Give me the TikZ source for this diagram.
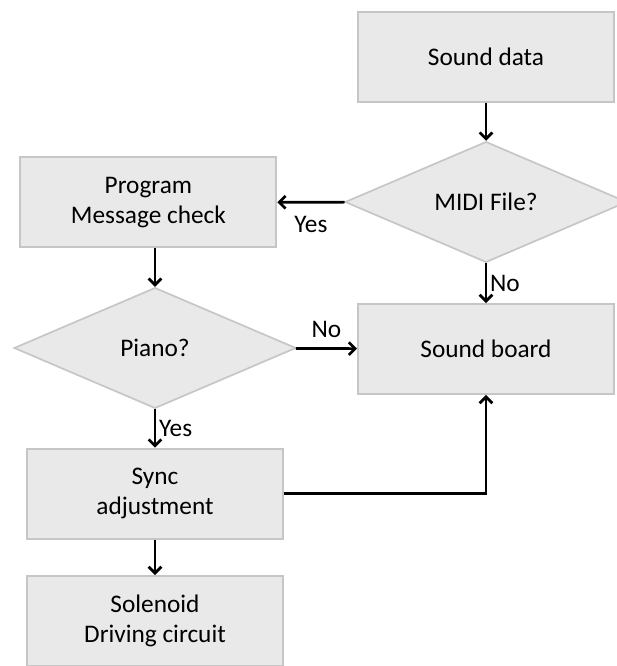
\documentclass[tikz,border=0pt]{standalone}
\usepackage{fontspec}
\setmainfont{Carlito}
\usetikzlibrary{shapes.geometric,arrows.meta}
\definecolor{boxfill}{RGB}{233,233,233}
\definecolor{boxline}{RGB}{198,198,198}
\tikzset{
    block/.style={draw=boxline, line width=1.4pt, fill=boxfill, rectangle,
        minimum width=6.4cm, minimum height=2.25cm, align=center, font=\fontsize{18}{21.5}\selectfont},
    decision/.style={draw=boxline, line width=1.2pt, fill=boxfill, diamond, aspect=2.3,
        minimum width=7.05cm, minimum height=3.02cm, inner sep=0pt, font=\fontsize{18}{21.5}\selectfont},
    flow/.style={-{Straight Barb[length=4.5pt,width=9pt]}, line width=1.9pt},
    lbl/.style={font=\fontsize{18}{21.5}\selectfont, inner sep=3pt}
}

\begin{document}
\begin{tikzpicture}

    \useasboundingbox (0,0) rectangle (15.4,16.65);

    % Right column
    \node[block] at (12.15,15.225) (Sdata) {Sound data};
    \node[decision] at (12.15,11.6) (Midi) {MIDI File?};
    \node[block] at (12.15,7.925) (Sboard) {Sound board};

    % Left column
    \node[block] at (3.71,11.59) (Prog) {Program\\Message check};
    \node[decision] at (3.875,7.95) (Piano) {Piano?};
    \node[block] at (3.875,4.31) (Sync) {Sync\\adjustment};
    \node[block] at (3.875,1.125) (Sol) {Solenoid\\Driving circuit};

    % Arrows
    \draw[flow] (Sdata) -- (Midi);
    \draw[flow] (Midi) -- node[lbl,below=6pt] {Yes} (Prog);
    \draw[flow] (Midi) -- node[lbl,right=-1pt] {No} (Sboard);
    \draw[flow] (Prog.south -| Piano.north) -- (Piano.north);
    \draw[flow] (Piano) -- node[lbl,above=4pt] {No} (Sboard);
    \draw[flow] (Piano) -- node[lbl,right=-1pt] {Yes} (Sync);
    \draw[flow] (Sync.east) -| (Sboard.south);
    \draw[flow] (Sync) -- (Sol);

\end{tikzpicture}
\end{document}
